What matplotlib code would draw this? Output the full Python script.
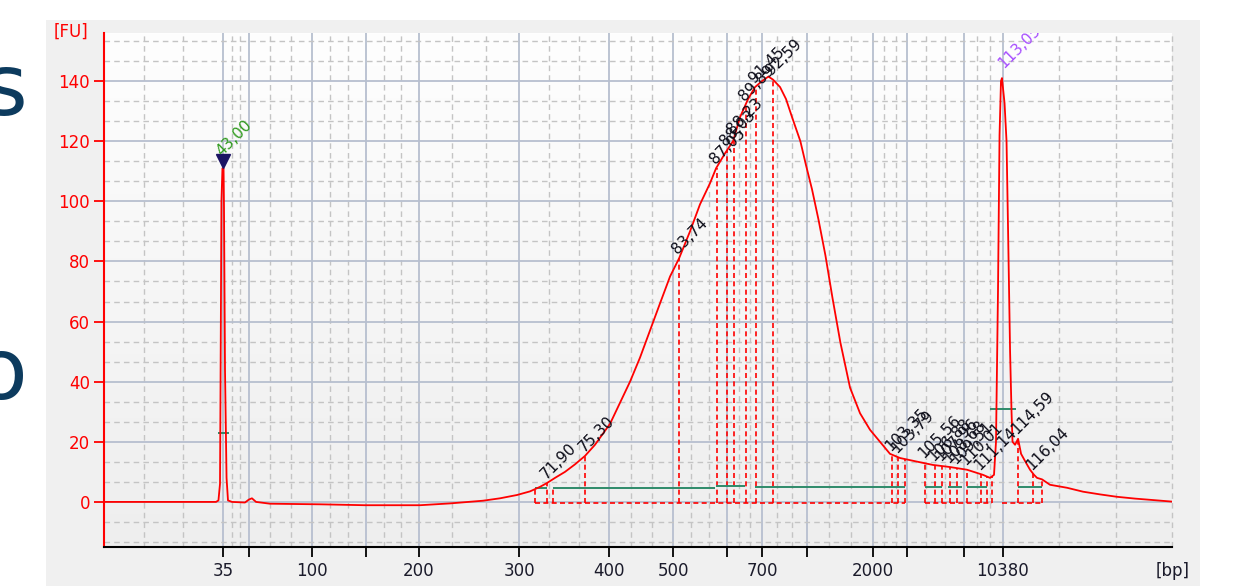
import matplotlib
matplotlib.use('Agg')
import matplotlib.pyplot as plt
import numpy as np
from matplotlib.patches import Rectangle
from matplotlib.colors import LinearSegmentedColormap

# ---------------- data ----------------
# migration time [s] and fluorescence [FU] of the electropherogram trace
time_s = [32.27, 40.93, 42.37, 42.59, 42.73, 42.77, 42.86, 42.95, 43.05, 43.09, 43.18, 43.32, 43.45, 43.81,
          44.98, 45.34, 45.61, 45.98, 47.24, 51.75, 55.80, 60.76, 63.47, 66.44, 67.98, 69.51, 70.68, 71.58,
          72.22, 72.94, 73.84, 74.74, 75.64, 76.54, 77.90, 78.80, 79.70, 80.60, 81.50, 82.40, 83.31, 84.12,
          85.11, 86.01, 86.91, 87.46, 88.27, 88.99, 89.62, 90.34, 90.97, 91.60, 92.18, 92.59, 93.23, 93.77,
          94.31, 95.06, 95.57, 96.11, 96.69, 97.32, 97.95, 98.67, 99.54, 100.44, 101.34, 102.24, 103.14,
          104.05, 105.58, 107.02, 108.56, 110.09, 111.53, 112.16, 112.52, 112.70, 112.88, 113.02, 113.15,
          113.24, 113.33, 113.47, 113.65, 113.79, 113.97, 114.10, 114.19, 114.42, 114.69, 114.96, 115.41,
          115.77, 116.13, 116.40, 116.85, 117.57, 119.11, 120.55, 122.08, 123.61, 125.24, 126.59, 128.57]
fu = [0.0, 0.0, 0.0, 0.5, 6, 33, 100, 111, 111, 98, 44, 8, 0.5, 0.0,
      -0.2, 0.8, 1.2, 0.0, -0.6, -0.8, -1.1, -1.1, -0.5, 0.4, 1.2, 2.3, 3.5, 5.0,
      6.3, 8.0, 10.0, 12.5, 15.3, 19.0, 26.0, 33.0, 40.0, 48.0, 57.0, 66.0, 75.0, 81.0,
      90.0, 99.0, 106.0, 111.0, 116.0, 120.0, 128.0, 134.0, 138.0, 140.0, 141.5, 140.5, 138.0, 134.0,
      128.0, 120.0, 112.0, 104.0, 94.0, 82.0, 68.0, 53.0, 38.0, 29.5, 24.0, 20.0, 16.0,
      14.6, 13.4, 12.3, 11.6, 10.7, 9.0, 8.0, 9.0, 20.0, 70.0, 122.0, 140.0,
      141.0, 137.7, 132.7, 120.0, 90.0, 50.0, 30.0, 20.0, 19.0, 21.0, 16.0, 13.0,
      10.7, 9.0, 8.0, 7.5, 5.7, 4.7, 3.4, 2.5, 1.7, 1.1, 0.7, 0.1]

# ladder sizes (bp) and their migration times
tick_bp = [35, 50, 100, 150, 200, 300, 400, 500, 600, 700, 1000, 2000, 3000, 7000, 10380]
tick_time = [43.00, 45.30, 51.03, 55.89, 60.67, 69.69, 77.85, 83.58, 88.45, 91.60, 95.66, 101.61, 104.68,
             109.82, 113.33]
tick_shown = ['35', '', '100', '', '200', '300', '400', '500', '', '700', '', '2000', '', '', '10380']

# called peaks: time, height at drop line, label
peak_time = [71.13, 72.22, 72.76, 75.64, 84.12, 87.53, 88.45, 89.08, 90.16, 91.06, 92.59,
             103.32, 103.87, 104.50, 106.30, 107.20, 107.83, 108.56, 109.19, 110.09, 111.35, 111.89,
             112.34, 114.69, 116.04, 116.85]
peak_height = [4.2, 6.3, 5.0, 15.3, 81, 111, 117, 121, 132, 138, 140.5,
               15.5, 14.8, 14.3, 13.2, 12.3, 12.0, 11.6, 11.2, 10.7, 9.3, 8.6,
               8.5, 21, 9.3, 7.5]
peak_label = ['', '71,90', '', '75,30', '83,74', '87,05', '88,03', '88,23', '89,89', '91,45', '92,59',
              '103,35', '103,79', '', '105,56', '106,88', '107,96', '108,68', '109,51', '110,01', '111,14', '',
              '', '114,59', '116,04', '']

# marker peaks
lower_marker_time, lower_marker_height, lower_marker_label = 43.00, 113.5, '43,00'
upper_marker_time, upper_marker_height, upper_marker_label = 113.24, 141.0, '113,05'

# green peak-width segments
green_start = [42.55, 71.13, 72.76, 87.46, 90.97, 106.30, 108.37, 110.09, 112.16, 114.69]
green_end = [43.54, 72.22, 87.36, 90.07, 104.50, 107.83, 109.64, 111.89, 114.51, 116.85]
green_level = [23.0, 4.7, 4.5, 5.3, 5.1, 5.1, 5.1, 5.1, 31.0, 5.1]

# red dashed baseline segments
base_start = [71.13, 106.30, 113.20]
base_end = [104.50, 112.34, 116.85]

# ---------------- figure ----------------
W, H = 1237, 586
fig = plt.figure(figsize=(W / 100, H / 100), dpi=100)
fig.patch.set_facecolor('white')
fig.patches.append(Rectangle((46 / W, 0), (1200 - 46) / W, (H - 20) / H, transform=fig.transFigure,
                             facecolor='#f0f0f0', edgecolor='none', zorder=-10))

# slide text fragments at the left edge (cropped in the reference)
fig.text(27 / W, 1 - 92 / H, 's', ha='right', va='center', fontsize=62, color='#0d3b5e')
fig.text(27 / W, 1 - 375 / H, 'o', ha='right', va='center', fontsize=62, color='#0d3b5e')

ax = fig.add_axes([104 / W, (H - 547) / H, (1172 - 104) / W, (547 - 33) / H])
ax.set_zorder(1)
ax.set_facecolor('none')
bg = LinearSegmentedColormap.from_list('bg', ['#fefefe', '#eeeeee'])
ax.imshow(np.linspace(0, 1, 256).reshape(-1, 1), cmap=bg, extent=[0, 1, 0, 1],
          transform=ax.transAxes, aspect='auto', zorder=0)

xmin, xmax = 32.27, 128.57
ymin, ymax = -15, 156

# grid
major_c, minor_c = '#b7bfcf', '#c4c4c4'
dash = (0, (4, 3))
for t in tick_time:
    ax.axvline(t, color=major_c, lw=1.3, zorder=1)
bounds = [xmin] + tick_time + [xmax]
for a, b in zip(bounds[:-1], bounds[1:]):
    for k in ((1, 2, 3) if b == xmax else (1, 2)):
        ax.axvline(a + (b - a) * k / 3, color=minor_c, lw=1.0, ls=dash, zorder=1, clip_on=False)
for yv in range(0, 141, 20):
    ax.axhline(yv, color=major_c, lw=1.3, zorder=1)
for k in range(-2, 24):
    yv = k * 20 / 3
    if k % 3 != 0:
        ax.axhline(yv, color=minor_c, lw=1.0, ls=dash, zorder=1)

# baseline, drop lines, widths
for a, b in zip(base_start, base_end):
    ax.plot([a, b], [-0.2, -0.2], color='#ff0000', lw=1.2, ls=(0, (3, 2)), zorder=3)
ax.vlines(peak_time, -0.2, peak_height, colors='#ff0000', linestyles=(0, (3, 2)), lw=1.2, zorder=3)
ax.hlines(green_level, green_start, green_end, colors='#2e8b6a', lw=1.4, zorder=4)

# trace
ax.plot(time_s, fu, color='#ff0000', lw=1.3, zorder=5)

# marker triangle
ax.plot([lower_marker_time], [lower_marker_height], marker='v', ms=10, color='#1c1464', zorder=6)

lab_kw = dict(textcoords='offset points', rotation=45, rotation_mode='anchor', ha='left', va='center',
              fontsize=11, zorder=7)
ax.annotate(lower_marker_label, (lower_marker_time, lower_marker_height), xytext=(-3, 5),
            color='#2f9a1e', **lab_kw)
ax.annotate(upper_marker_label, (upper_marker_time, upper_marker_height), xytext=(-1, 9),
            color='#a64dff', clip_on=True, **lab_kw)
for t, h, s in zip(peak_time, peak_height, peak_label):
    if s:
        ax.annotate(s, (t, h), xytext=(-3, 5), color='#0c0c18', **lab_kw)

ax.set_xlim(xmin, xmax)
ax.set_ylim(ymin, ymax)
ax.set_xticks(tick_time)
ax.set_xticklabels(tick_shown)
ax.set_yticks(range(0, 141, 20))
ax.tick_params(axis='x', direction='out', length=7, width=1.3, color='black', labelcolor='#1b1b2b',
               labelsize=12, pad=4)
ax.tick_params(axis='y', direction='out', length=7, width=1.3, color='#ff0000', labelcolor='#ff0000',
               labelsize=12, pad=3)
for side in ('top', 'right'):
    ax.spines[side].set_visible(False)
ax.spines['left'].set_color('#ff0000')
ax.spines['left'].set_linewidth(1.5)
ax.spines['bottom'].set_color('black')
ax.spines['bottom'].set_linewidth(1.5)
ax.spines['left'].set_zorder(8)
ax.spines['bottom'].set_zorder(8)

fig.text(71 / W, 1 - 32 / H, '[FU]', ha='center', va='center', fontsize=12, color='#ff0000')
fig.text(1173 / W, 1 - 571 / H, '[bp]', ha='center', va='center', fontsize=12, color='#1b1b2b')

fig.savefig('out.png', dpi=100)
